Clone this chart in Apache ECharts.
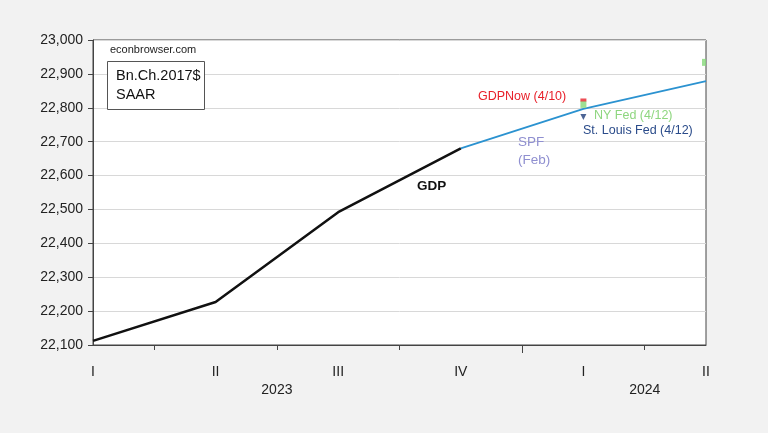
<!DOCTYPE html>
<html><head><meta charset="utf-8">
<script src="https://cdn.jsdelivr.net/npm/echarts@6/dist/echarts.min.js"></script>
<style>html,body{margin:0;padding:0;background:#f2f2f2}#c{width:768px;height:433px}</style>
</head><body><div id="c"></div>
<script>
// quarters indexed 0..5 : 2023Q1 .. 2024Q2
const quarterLabels = ['I', 'II', 'III', 'IV', 'I', 'II'];
const yearLabels = ['2023', '2024'];
const yearPositions = [1.5, 4.5];
const gdpX = [0, 1, 2, 3];
const gdpValues = [22112, 22227, 22492, 22680];
const spfX = [3, 4, 5];
const spfValues = [22680, 22797, 22879];
const gdpNowPoint = [4, 22823];
const nyFedQ1 = [4, 22810];
const nyFedQ2 = [5, 22934];
const stlFedPoint = [4, 22773];

const FONT = '"Liberation Sans", Arial, sans-serif';
const chart = echarts.init(document.getElementById('c'));
chart.setOption({
  backgroundColor: '#f2f2f2',
  animation: false,
  grid: {left: 93, right: 62, top: 40, bottom: 88, show: true, backgroundColor: '#fff', borderColor: '#444', borderWidth: 1},
  xAxis: [{
    type: 'value', min: 0, max: 5, interval: 1,
    axisLine: {show: true, onZero: false, lineStyle: {color: '#444'}},
    axisTick: {show: true, length: 5, lineStyle: {color: '#444'}, customValues: [0.5, 1.5, 2.5, 4.5]},
    axisLabel: {customValues: [0, 1, 2, 3, 4, 5], formatter: v => quarterLabels[Math.round(v)], color: '#222', fontFamily: FONT, fontSize: 14, margin: 20, showMinLabel: true, showMaxLabel: true},
    splitLine: {show: false}
  }, {
    type: 'value', min: 0, max: 5, position: 'bottom', offset: 18,
    axisLine: {show: false}, axisTick: {show: false}, splitLine: {show: false},
    axisLabel: {customValues: yearPositions, formatter: v => yearLabels[yearPositions.indexOf(v)], color: '#222', fontFamily: FONT, fontSize: 14, margin: 20}
  }, {
    type: 'value', min: 0, max: 5, position: 'bottom',
    axisLine: {show: false}, splitLine: {show: false}, axisLabel: {show: false},
    axisTick: {show: true, length: 8, lineStyle: {color: '#444'}, customValues: [3.5]}
  }],
  yAxis: {
    type: 'value', min: 22100, max: 23000, interval: 100,
    axisLine: {show: true, lineStyle: {color: '#444'}},
    axisTick: {show: true, length: 5, lineStyle: {color: '#444'}},
    axisLabel: {formatter: v => v.toLocaleString('en-US'), color: '#222', fontFamily: FONT, fontSize: 14, margin: 10},
    splitLine: {show: true, lineStyle: {color: '#d8d8d8', width: 1}}
  },
  series: [
    {type: 'line', name: 'GDP', data: gdpX.map((x, i) => [x, gdpValues[i]]), showSymbol: false, lineStyle: {color: '#111', width: 2.5}, z: 3},
    {type: 'line', name: 'SPF', data: spfX.map((x, i) => [x, spfValues[i]]), showSymbol: false, lineStyle: {color: '#2b92d0', width: 1.8}, z: 2},
    {type: 'scatter', name: 'NY Fed', data: [nyFedQ1], symbol: 'rect', symbolSize: [6, 7], itemStyle: {color: '#86d879'}, z: 4},
    {type: 'scatter', name: 'NY Fed Q2', data: [nyFedQ2], symbol: 'rect', symbolSize: [4, 7], symbolOffset: [-2, 0], itemStyle: {color: '#86d879'}, z: 4},
    {type: 'scatter', name: 'GDPNow', data: [gdpNowPoint], symbol: 'rect', symbolSize: [6, 3], itemStyle: {color: '#e8202a'}, z: 5},
    {type: 'scatter', name: 'St. Louis Fed', data: [stlFedPoint], symbol: 'triangle', symbolRotate: 180, symbolSize: 6, itemStyle: {color: '#1f3d7a'}, z: 4}
  ],
  graphic: [
    {type: 'text', z: 100, left: 110, top: 44, style: {text: 'econbrowser.com', fontFamily: FONT, fontSize: 11, fill: '#222'}},
    {type: 'rect', z: 100, shape: {x: 107.5, y: 61.5, width: 97, height: 48}, style: {fill: '#fff', stroke: '#555', lineWidth: 1}},
    {type: 'text', z: 101, left: 116, top: 66, style: {text: 'Bn.Ch.2017$\nSAAR', fontFamily: FONT, fontSize: 14.5, lineHeight: 19, fill: '#111'}},
    {type: 'text', z: 100, left: 478, top: 90, style: {text: 'GDPNow (4/10)', fontFamily: FONT, fontSize: 12.5, fill: '#e8202a'}},
    {type: 'text', z: 100, left: 594, top: 109, style: {text: 'NY Fed (4/12)', fontFamily: FONT, fontSize: 12.5, fill: '#8ed67f'}},
    {type: 'text', z: 100, left: 583, top: 124, style: {text: 'St. Louis Fed (4/12)', fontFamily: FONT, fontSize: 12.5, fill: '#2a4b8a'}},
    {type: 'text', z: 100, left: 518, top: 133, style: {text: 'SPF\n(Feb)', fontFamily: FONT, fontSize: 13.5, lineHeight: 18, fill: '#8f8fd0'}},
    {type: 'text', z: 100, left: 417, top: 179, style: {text: 'GDP', fontFamily: FONT, fontSize: 13.5, fontWeight: 'bold', fill: '#111'}}
  ]
});
</script></body></html>
